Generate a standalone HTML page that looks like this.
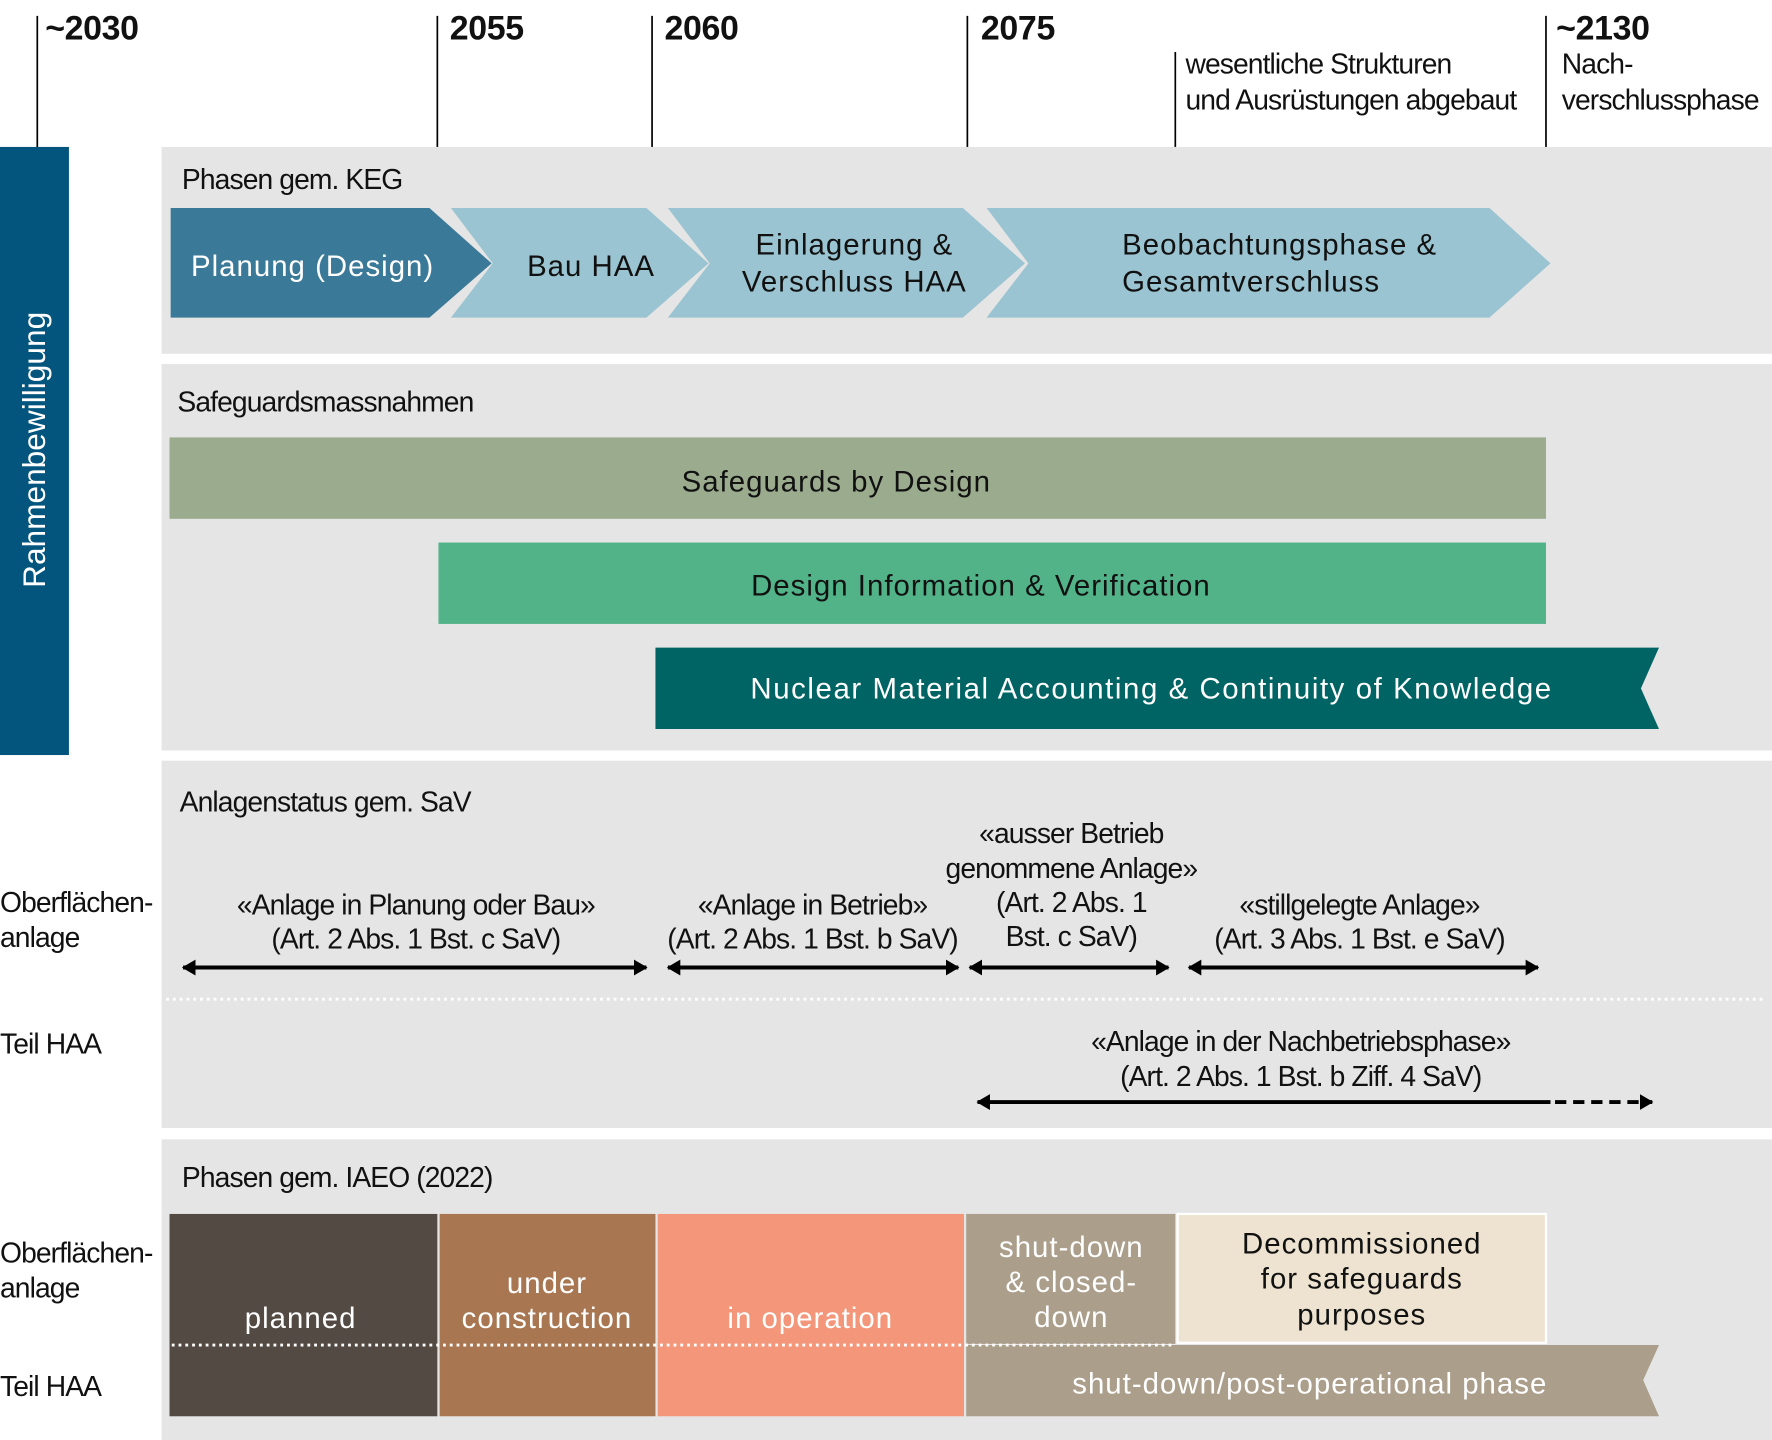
<!DOCTYPE html>
<html><head><meta charset="utf-8"><style>
html,body{margin:0;padding:0;background:#fff;}
svg{display:block;}
text{font-family:"Liberation Sans",sans-serif;}
.n{font-size:25px;fill:#111;letter-spacing:-0.8px;}
.y{font-size:30px;font-weight:bold;fill:#111;letter-spacing:-0.3px;}
.w{font-size:26px;fill:#fff;letter-spacing:0.9px;}
.d{font-size:26px;fill:#111;letter-spacing:0.9px;}
</style></head><body>
<svg width="1772" height="1440" viewBox="0 0 1568 1274" preserveAspectRatio="none" xmlns="http://www.w3.org/2000/svg">
<defs>
<marker id="ah" markerWidth="12" markerHeight="14" refX="11" refY="7" orient="auto-start-reverse" markerUnits="userSpaceOnUse"><path d="M0,0 L12,7 L0,14 Z" fill="#000"/></marker>
</defs>
<g stroke="#000" stroke-width="1.5">
<line x1="33" y1="14" x2="33" y2="130"/>
<line x1="387" y1="14" x2="387" y2="130"/>
<line x1="577" y1="14" x2="577" y2="130"/>
<line x1="856" y1="14" x2="856" y2="130"/>
<line x1="1040" y1="46" x2="1040" y2="130"/>
<line x1="1368" y1="14" x2="1368" y2="130"/>
</g>
<text class="y" x="40" y="35">~2030</text>
<text class="y" x="398" y="35">2055</text>
<text class="y" x="588" y="35">2060</text>
<text class="y" x="868" y="35">2075</text>
<text class="y" x="1377" y="35">~2130</text>
<text class="n" x="1049" y="65">wesentliche Strukturen</text>
<text class="n" x="1049" y="97">und Ausrüstungen abgebaut</text>
<text class="n" x="1382" y="65">Nach-</text>
<text class="n" x="1382" y="97">verschlussphase</text>
<rect x="0" y="130" width="61" height="538" fill="#03557e"/>
<text x="40" y="398" font-size="28" fill="#fff" text-anchor="middle" transform="rotate(-90 40 398)">Rahmenbewilligung</text>
<rect x="143" y="130" width="1425" height="183" fill="#e5e5e5"/>
<rect x="143" y="322" width="1425" height="342" fill="#e5e5e5"/>
<rect x="143" y="673" width="1425" height="325" fill="#e5e5e5"/>
<rect x="143" y="1008" width="1425" height="266" fill="#e5e5e5"/>
<text class="n" x="161" y="167">Phasen gem. KEG</text>
<polygon points="151,184 380,184 435,233 380,281 151,281" fill="#3a7a98"/>
<polygon points="399,184 572,184 627,233 572,281 399,281 436,233" fill="#9ac4d1"/>
<polygon points="591,184 852,184 907,233 852,281 591,281 628,233" fill="#9ac4d1"/>
<polygon points="873,184 1318,184 1372,233 1318,281 873,281 910,233" fill="#9ac4d1"/>
<text class="w" x="169" y="244">Planung (Design)</text>
<text class="d" x="523" y="244" text-anchor="middle">Bau HAA</text>
<text class="d" x="756" y="225" text-anchor="middle">Einlagerung &amp;</text>
<text class="d" x="756" y="258" text-anchor="middle">Verschluss HAA</text>
<text class="d" x="993" y="225">Beobachtungsphase &amp;</text>
<text class="d" x="993" y="258">Gesamtverschluss</text>
<text class="n" x="157" y="364">Safeguardsmassnahmen</text>
<rect x="150" y="387" width="1218" height="72" fill="#9bab8e"/>
<text class="d" x="740" y="435" text-anchor="middle">Safeguards by Design</text>
<rect x="388" y="480" width="980" height="72" fill="#52b389"/>
<text class="d" x="868" y="527" text-anchor="middle">Design Information &amp; Verification</text>
<polygon points="580,573 1468,573 1452,609 1468,645 580,645" fill="#006464"/>
<text class="w" x="1019" y="618" text-anchor="middle" style="letter-spacing:1.4px">Nuclear Material Accounting &amp; Continuity of Knowledge</text>
<text class="n" x="159" y="718">Anlagenstatus gem. SaV</text>
<text class="n" x="0" y="807">Oberflächen-</text>
<text class="n" x="0" y="838">anlage</text>
<text class="n" x="0" y="932">Teil HAA</text>
<text class="n" x="368" y="809" text-anchor="middle">«Anlage in Planung oder Bau»</text>
<text class="n" x="368" y="839" text-anchor="middle">(Art. 2 Abs. 1 Bst. c SaV)</text>
<text class="n" x="719" y="809" text-anchor="middle">«Anlage in Betrieb»</text>
<text class="n" x="719" y="839" text-anchor="middle">(Art. 2 Abs. 1 Bst. b SaV)</text>
<text class="n" x="948" y="746" text-anchor="middle">«ausser Betrieb</text>
<text class="n" x="948" y="777" text-anchor="middle">genommene  Anlage»</text>
<text class="n" x="948" y="807" text-anchor="middle">(Art. 2 Abs. 1</text>
<text class="n" x="948" y="837" text-anchor="middle">Bst. c SaV)</text>
<text class="n" x="1203" y="809" text-anchor="middle">«stillgelegte  Anlage»</text>
<text class="n" x="1203" y="839" text-anchor="middle">(Art. 3 Abs. 1  Bst. e SaV)</text>
<g stroke="#000" stroke-width="3.5" marker-start="url(#ah)" marker-end="url(#ah)">
<line x1="162" y1="856" x2="572" y2="856"/>
<line x1="591" y1="856" x2="848" y2="856"/>
<line x1="858" y1="856" x2="1034" y2="856"/>
<line x1="1052" y1="856" x2="1361" y2="856"/>
</g>
<line x1="147" y1="884" x2="1562" y2="884" stroke="#fff" stroke-width="2.5" stroke-dasharray="2.5 3.5"/>
<text class="n" x="1151" y="930" text-anchor="middle">«Anlage in der Nachbetriebsphase»</text>
<text class="n" x="1151" y="961" text-anchor="middle">(Art. 2 Abs. 1 Bst. b Ziff. 4 SaV)</text>
<line x1="865" y1="975" x2="1372" y2="975" stroke="#000" stroke-width="3.5" marker-start="url(#ah)"/>
<line x1="1376" y1="975" x2="1462" y2="975" stroke="#000" stroke-width="3.5" stroke-dasharray="10 6" marker-end="url(#ah)"/>
<text class="n" x="161" y="1050">Phasen gem. IAEO (2022)</text>
<text class="n" x="0" y="1117">Oberflächen-</text>
<text class="n" x="0" y="1148">anlage</text>
<text class="n" x="0" y="1235">Teil HAA</text>
<rect x="150" y="1074" width="237" height="179" fill="#534a44"/>
<rect x="389" y="1074" width="191" height="179" fill="#a87752"/>
<rect x="582" y="1074" width="271" height="179" fill="#f39679"/>
<rect x="855" y="1074" width="185" height="115" fill="#ab9e8b"/>
<rect x="1042" y="1074" width="326" height="114" fill="#ede3d0" stroke="#fff" stroke-width="2"/>
<polygon points="855,1190 1468,1190 1454,1221 1468,1253 855,1253" fill="#ab9e8b"/>
<line x1="152" y1="1190" x2="1040" y2="1190" stroke="#fff" stroke-width="2.5" stroke-dasharray="2.5 3.5"/>
<text class="w" x="266" y="1175" text-anchor="middle">planned</text>
<text class="w" x="484" y="1144" text-anchor="middle">under</text>
<text class="w" x="484" y="1175" text-anchor="middle">construction</text>
<text class="w" x="717" y="1175" text-anchor="middle">in operation</text>
<text class="w" x="948" y="1112" text-anchor="middle">shut-down</text>
<text class="w" x="948" y="1143" text-anchor="middle">&amp; closed-</text>
<text class="w" x="948" y="1174" text-anchor="middle">down</text>
<text class="d" x="1205" y="1109" text-anchor="middle">Decommissioned</text>
<text class="d" x="1205" y="1140" text-anchor="middle">for safeguards</text>
<text class="d" x="1205" y="1172" text-anchor="middle">purposes</text>
<text class="w" x="1159" y="1233" text-anchor="middle">shut-down/post-operational phase</text>
</svg>
</body></html>
